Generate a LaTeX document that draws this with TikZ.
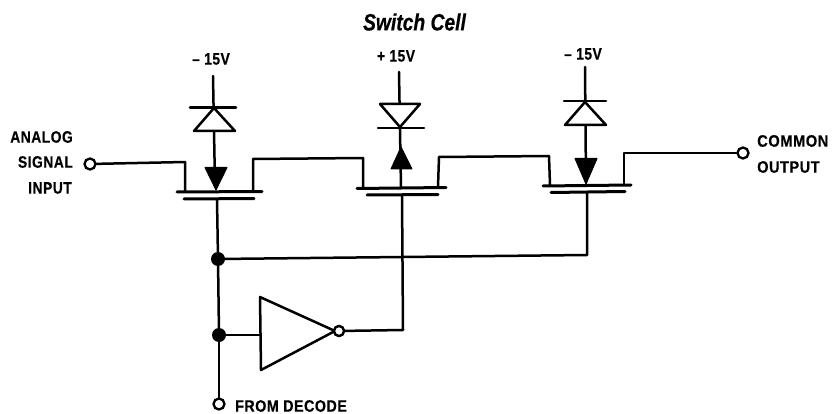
\documentclass[tikz,border=0pt]{standalone}
\usepackage{fontspec}
\setmainfont{Liberation Sans}[BoldFont={* Bold},BoldItalicFont={* Bold Italic},Scale=1]
\newfontface\lblfont{Liberation Sans Bold}[FakeStretch=0.84,LetterSpace=3,FakeBold=0.3]
\newfontface\ttlfont{Liberation Sans Bold Italic}[FakeStretch=0.82,FakeBold=0.5]
\usetikzlibrary{calc}
\tikzset{
  wire/.style={line width=2.5pt,line cap=round,line join=round,black},
  gatebar/.style={line width=3pt,line cap=round,black},
  solidtip/.style={fill=black,draw=black,line width=1pt,line join=round},
  opentri/.style={draw=black,fill=white,line width=2.5pt,line join=round},
  term/.style={circle,draw=black,fill=white,line width=2.3pt,minimum size=11pt,inner sep=0pt},
  dotn/.style={circle,fill=black,minimum size=14pt,inner sep=0pt},
  lbl/.style={font=\lblfont\fontsize{16.5}{17}\selectfont,text=black,inner sep=0pt},
  ttl/.style={font=\ttlfont\fontsize{23.5}{25}\selectfont,text=black,inner sep=0pt}
}
\begin{document}
\begin{tikzpicture}[x=1pt,y=-1pt]
\useasboundingbox (0,0) rectangle (832,414);
% labels
\node[ttl] (title) at (414.5,22) {Switch Cell};
\node[lbl,anchor=east] (lana) at (73,137) {ANALOG};
\node[lbl,anchor=east] (lsig) at (73,162) {SIGNAL};
\node[lbl,anchor=east] (linp) at (72,188) {INPUT};
\node[lbl] (v1) at (211,59) {– 15V};
\node[lbl] (v2) at (396,56) {+ 15V};
\node[lbl] (v3) at (583,54) {– 15V};
\node[lbl,anchor=west,xscale=1.06] (lcom) at (757,141) {COMMON};
\node[lbl,anchor=west,xscale=1.05] (lout) at (757,167) {OUTPUT};
\node[lbl,anchor=west,xscale=1.03] (ldec) at (235,406) {FROM DECODE};
% coordinates
\coordinate (c1l) at (177,192); \coordinate (c1r) at (262,191.5);
\coordinate (g1l) at (184,199); \coordinate (g1r) at (254,198.5);
\coordinate (c2l) at (357,188.5); \coordinate (c2r) at (446,187.5);
\coordinate (g2l) at (367,195); \coordinate (g2r) at (438,194.5);
\coordinate (c3l) at (543,186); \coordinate (c3r) at (631,185);
\coordinate (g3l) at (551,192.5); \coordinate (g3r) at (625,191.5);
\coordinate (t1) at (213,76); \coordinate (t2) at (399,72); \coordinate (t3) at (585,67);
% terminals and junctions
\node[term] (inp) at (90,164) {};
\node[term] (outp) at (743,153) {};
\node[term] (dec) at (219,404) {};
\node[dotn] (j1) at (218,259) {};
\node[dotn] (j2) at (219,335) {};
% inverter
\coordinate (invtl) at (260,297); \coordinate (invbl) at (261,370); \coordinate (invap) at (335,331);
\coordinate (invin) at (260,335);
\node[term,minimum size=10pt] (bub) at (339,331) {};
\draw[wire] (invtl) -- (invap) -- (invbl) -- cycle;
\node[term,minimum size=10pt] at (bub) {};
% source and drain wiring
\draw[wire] (inp) -- (185,162) -- (185,191);
\draw[wire] (253,191) -- (253,159) -- (363,158) -- (363,188);
\draw[wire] (438,187) -- (439,157) -- (549,156) -- (550,185);
\draw[wire] (624,184) -- (624,153) -- (outp);
% channel and gate bars
\draw[gatebar] (c1l) -- (c1r); \draw[gatebar] (g1l) -- (g1r);
\draw[gatebar] (c2l) -- (c2r); \draw[gatebar] (g2l) -- (g2r);
\draw[gatebar] (c3l) -- (c3r); \draw[gatebar] (g3l) -- (g3r);
% gates
\draw[wire] (217,199) -- (j1);
\draw[wire] (j1) -- (j2);
\draw[wire] (j2) -- (dec);
\draw[wire] (j1) -- (587,255) -- (587,192);
\draw[wire] (j2) -- (invin);
\draw[wire] (bub) -- (403,330) -- (402,195);
% diode 1
\draw[wire] (t1) -- (215,185);
\draw[wire] (190,107.5) -- (236,107.5);
\draw[opentri] (214,108) -- (194,131) -- (235,131) -- cycle;
\draw[solidtip] (205,167.5) -- (227,167.5) -- (216,190) -- cycle;
% diode 2
\draw[wire] (t2) -- (401,188);
\draw[wire] (378,128) -- (424,128);
\draw[opentri] (380,104) -- (420,104) -- (400,127) -- cycle;
\draw[solidtip] (391,169) -- (412,169) -- (401,147) -- cycle;
% diode 3
\draw[wire] (t3) -- (586,182);
\draw[wire] (564,101) -- (606,101);
\draw[opentri] (585,102) -- (565,125) -- (606,125) -- cycle;
\draw[solidtip] (575,158.5) -- (597,158.5) -- (586,184) -- cycle;
\end{tikzpicture}
\end{document}
